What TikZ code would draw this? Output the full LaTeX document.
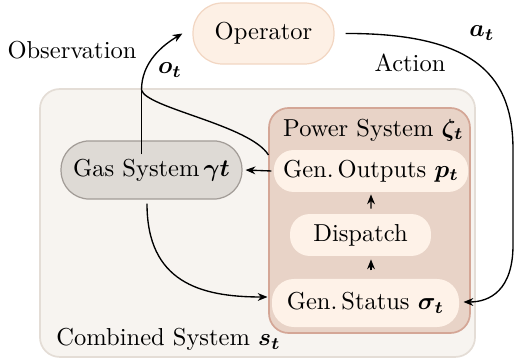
\documentclass[tikz,border=0pt]{standalone}
\usepackage{amsmath,bm}
\usetikzlibrary{arrows.meta,calc}
\definecolor{opfill}{HTML}{FDF0E5}
\definecolor{opdraw}{HTML}{F2D6C2}
\definecolor{outfill}{HTML}{F7F4F0}
\definecolor{outdraw}{HTML}{E4DDD6}
\definecolor{pwfill}{HTML}{E8D3C7}
\definecolor{pwdraw}{HTML}{D4A696}
\definecolor{infill}{HTML}{FEF2E8}
\definecolor{gasfill}{HTML}{DEDAD5}
\definecolor{gasdraw}{HTML}{A29C97}
\tikzset{
  conn/.style={line width=0.55pt, -{Stealth[length=4pt,width=3.2pt]}},
  plain/.style={line width=0.55pt},
  box/.style={rectangle, inner sep=0pt, font=\normalsize},
  opbox/.style={box, fill=opfill, draw=opdraw, line width=0.5pt, rounded corners=12pt, minimum width=57.5pt, minimum height=24.9pt},
  gasbox/.style={box, fill=gasfill, draw=gasdraw, line width=0.5pt, rounded corners=11.5pt, minimum width=73.8pt, minimum height=23.7pt},
  inbox/.style={box, fill=infill, rounded corners=8pt, minimum height=17.1pt},
  lbl/.style={inner sep=0pt, font=\normalsize}
}
\begin{document}
\begin{tikzpicture}[x=0.408pt, y=-0.408pt]
\useasboundingbox (0,0) rectangle (514,360);
% containers
\node[box, fill=outfill, draw=outdraw, line width=0.7pt, rounded corners=8pt, minimum width=177.5pt, minimum height=109.3pt] (comb) at (257.5,223) {};
\node[box, fill=pwfill, draw=pwdraw, line width=0.7pt, rounded corners=8pt, minimum width=82pt, minimum height=91.8pt] (power) at (369.5,220.5) {};
% nodes
\node[opbox] (op) at (263.5,33.5) {Operator};
\node[gasbox] (gas) at (151.5,170) {Gas System\,$\bm{\gamma t}$};
\node[inbox, minimum width=79.2pt] (out) at (371,171) {Gen.\,Outputs $\bm{p_t}$};
\node[inbox, minimum width=57.5pt] (disp) at (360.5,235) {Dispatch};
\node[inbox, minimum width=76.3pt, minimum height=19.6pt, rounded corners=9pt] (stat) at (365.5,303) {Gen.\,Status $\bm{\sigma_t}$};
% labels
\node[lbl] (pwl) at (373.5,130) {Power System $\bm{\zeta_t}$};
\node[lbl, anchor=base west] (combl) at (56,346) {Combined System $\bm{s_t}$};
\node[lbl] (obs) at (72,50) {Observation};
\node[lbl] (act) at (410,63) {Action};
\node[lbl] (ot) at (170,70) {$\bm{o_t}$};
\node[lbl] (at) at (482,33) {$\bm{a_t}$};
% connectors
\coordinate (j) at (141.5,90);
\draw[plain] ($(gas.north)+(-10,14)$) -- (j);
\draw[conn] (j) .. controls (141.5,62) and (163,45) .. ($(op.west)+(-10,0)$);
\draw[plain] (j) .. controls (146,108) and (250,125) .. ($(out.west)+(-5,-16)$);
\draw[conn] ($(out.west)+(-2,0)$) -- ($(gas.east)+(3,0)$);
\draw[conn] ($(gas.south)+(-4.5,4)$) .. controls (147,282) and (200,297) .. ($(stat.west)+(-4,-6)$);
\draw[conn] ($(op.east)+(11,0)$) .. controls (480,33) and (513,80) .. (513,150)
  -- (513,245) .. controls (513,290) and (490,302) .. ($(stat.east)+(4,-1)$);
\draw[conn] ($(disp.north)+(10.5,-5)$) -- ($(out.south)+(0,2)$);
\draw[conn] ($(stat.north)+(5.5,-8)$) -- ($(disp.south)+(10.5,3)$);
\end{tikzpicture}
\end{document}
